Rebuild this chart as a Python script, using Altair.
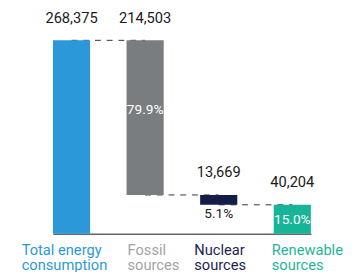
import altair as alt
import pandas as pd

categories = ["Total energy|consumption", "Fossil|sources", "Nuclear|sources", "Renewable|sources"]
values = [268375, 214503, 13669, 40204]
value_labels = ["268,375", "214,503", "13,669", "40,204"]
pct_labels = ["", "79.9%", "5.1%", "15.0%"]
bar_colors = ["#2b99d9", "#7a7d80", "#141c48", "#17b598"]
label_colors = ["#2b99d9", "#a3a3a3", "#1c2451", "#1fb597"]
label_shift = [-51, -18, -25, -21]

# waterfall geometry from the values
starts, ends = [0], [values[0]]
level = values[0]
for v in values[1:3]:
    ends.append(level)
    starts.append(level - v)
    level -= v
starts.append(0)
ends.append(values[3])

df = pd.DataFrame({
    "cat": categories, "start": starts, "end": ends,
    "vlabel": value_labels, "pct": pct_labels,
    "mid": [(s + e) / 2 for s, e in zip(starts, ends)],
})
conn = pd.DataFrame({
    "cat": categories[:3], "next": categories[1:],
    "yv": [ends[0], starts[1], starts[2]],
})

color_expr = " : ".join(
    f"datum.value == '{c}' ? '{col}'" for c, col in zip(categories, label_colors)
) + " : '#333'"
offset_expr = " : ".join(
    f"datum.value == '{c}' ? {o}" for c, o in zip(categories, label_shift)
) + " : 0"

xsc = alt.Scale(domain=categories, paddingInner=0.495, paddingOuter=0)
ysc = alt.Scale(domain=[0, values[0]], nice=False, zero=True)

xaxis = alt.Axis(
    title=None, ticks=False, labelAngle=0, labelAlign="left", labelBaseline="top",
    labelFont="Roboto", labelFontSize=15,
    labelPadding=9, labelLineHeight=16, labelExpr="split(datum.label, '|')",
    labelColor=alt.ExprRef(color_expr), labelOffset=alt.ExprRef(offset_expr),
    domainColor="#666666", domainWidth=1.6,
    labelOverlap=False, labelBound=False, labelFlush=False, labelLimit=200)

def X():
    return alt.X("cat:N", scale=xsc, sort=categories, axis=xaxis)

base = alt.Chart(df)

rules = alt.Chart(conn).mark_rule(color="#333333", strokeWidth=1, strokeDash=[6, 6]).encode(
    x=X(), x2="next:N",
    y=alt.Y("yv:Q", scale=ysc, axis=None))

bars = base.mark_bar().encode(
    x=X(),
    y=alt.Y("start:Q", scale=ysc, axis=None), y2="end:Q",
    color=alt.Color("cat:N", scale=alt.Scale(domain=categories, range=bar_colors), legend=None))

vtext = base.mark_text(font="Roboto", fontSize=15, color="#1a1a1a", dy=-23, baseline="middle").encode(
    x=X(), y=alt.Y("end:Q", scale=ysc, axis=None), text="vlabel:N")

t_fossil = base.transform_filter(alt.datum.cat == categories[1]).mark_text(
    font="Roboto", fontSize=14, color="white", dy=-8, baseline="middle").encode(
    x=X(), y=alt.Y("mid:Q", scale=ysc, axis=None), text="pct:N")
t_nuc = base.transform_filter(alt.datum.cat == categories[2]).mark_text(
    font="Roboto", fontSize=14, color="#1a1a1a", dy=9, baseline="middle").encode(
    x=X(), y=alt.Y("start:Q", scale=ysc, axis=None), text="pct:N")
t_ren = base.transform_filter(alt.datum.cat == categories[3]).mark_text(
    font="Roboto", fontSize=14, color="white", dy=1, baseline="middle").encode(
    x=X(), y=alt.Y("mid:Q", scale=ysc, axis=None), text="pct:N")

chart = alt.layer(rules, bars, vtext, t_fossil, t_nuc, t_ren).properties(
    width=264, height=198,
    autosize=alt.AutoSizeParams(type="none"),
    padding={"left": 46, "top": 30, "right": 39, "bottom": 36},
).configure_view(stroke=None)

chart.save("out.html", embed_options={"renderer": "svg", "actions": False})
